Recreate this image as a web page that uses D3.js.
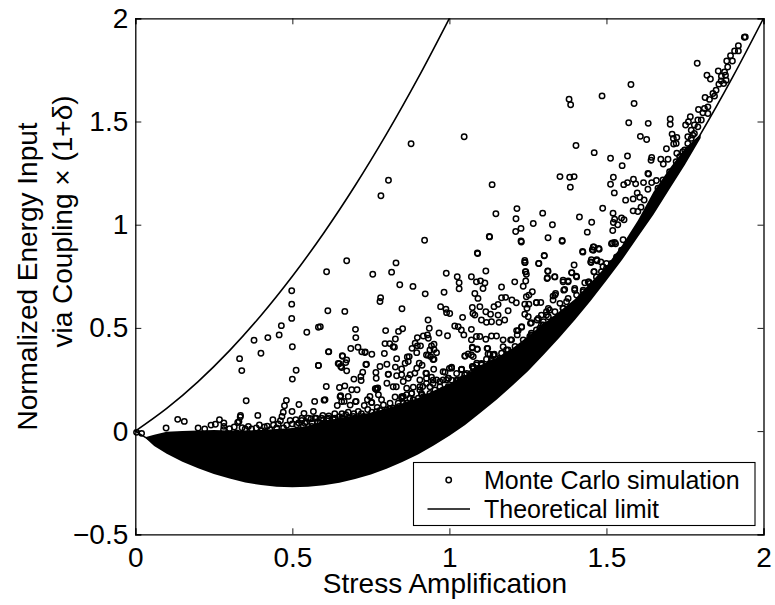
<!DOCTYPE html>
<html><head><meta charset="utf-8">
<script src="https://cdn.jsdelivr.net/npm/d3@7/dist/d3.min.js"></script>
<style>html,body{margin:0;padding:0;background:#fff}svg{display:block}text{font-family:"Liberation Sans",Arial,sans-serif;fill:#000}</style>
</head><body><div id="chart"></div>
<script>
const xTicks=[0,0.5,1,1.5,2];
const yTicks=[-0.5,0,0.5,1,1.5,2];
const xLabel="Stress Amplification";
const yLabelLines=["Normalized Energy Input","via Coupling × (1+δ)"];
const legendLabels=["Monte Carlo simulation","Theoretical limit"];
const upperLimitX=[0,.1,.2,.3,.4,.5,.6,.7,.8,.9,1];
const upperLimitY=[0,.11,.24,.39,.56,.75,.96,1.19,1.44,1.71,2];
const lowerLimitX=[0,.1,.2,.3,.4,.5,.6,.7,.8,.9,1,1.1,1.2,1.3,1.4,1.5,1.6,1.7,1.8,1.9,2];
const lowerLimitY=[0,-.09,-.16,-.21,-.24,-.25,-.24,-.21,-.16,-.09,0,.11,.24,.39,.56,.75,.96,1.19,1.44,1.71,2];
// Solid mass where the simulated points overlap completely
const denseX=[.034,.06,.1,.15,.2,.25,.3,.35,.4,.45,.5,.55,.6,.65,.7,.75,.8,.85,.9,.95,1,1.05,1.1,1.15,1.2,1.25,1.3,1.35,1.4,1.45,1.5,1.55,1.6,1.65,1.7,1.75,1.8];
const denseLow=[-.036,-.072,-.11,-.148,-.18,-.208,-.23,-.249,-.261,-.27,-.272,-.27,-.262,-.25,-.232,-.21,-.182,-.15,-.113,-.07,-.022,.03,.09,.152,.22,.29,.37,.452,.54,.632,.73,.83,.94,1.05,1.17,1.29,1.42];
const denseHigh=[-.028,-.018,-.003,0,.003,.005,.003,.003,.005,.01,.015,.025,.05,.062,.075,.09,.11,.135,.16,.195,.23,.27,.32,.355,.4,.46,.52,.58,.64,.72,.8,.9,1.02,1.16,1.27,1.37,1.44];
const simulationPoints=[
[.878,1.392],[.806,1.215],[.782,1.14],[.921,.925],[.673,.825],[.83,.815],
[1.047,1.426],[1.381,1.608],[1.386,1.581],[1.486,1.624],[1.578,1.679],[1.588,1.587],[1.789,1.782],[1.82,1.724],[1.831,1.706],[1.856,1.745],[1.939,1.908],[1.942,1.91],[1.92,1.867],[1.92,1.842],[1.908,1.842],[1.895,1.819],[1.883,1.793],[1.901,1.793],[1.886,1.764],[1.876,1.74],[1.866,1.719],[1.879,1.724],[1.865,1.697],[1.881,1.7],[1.858,1.681],[1.873,1.684],[1.849,1.652],[1.839,1.636],[1.814,1.616],[1.828,1.607],[1.844,1.623],[1.823,1.571],[1.812,1.563],[1.793,1.558],[1.807,1.542],[1.823,1.539],[1.767,1.523],[1.761,1.499],[1.752,1.483],[1.703,1.512],[1.703,1.487],[1.633,1.491],[1.571,1.494],[1.791,1.507],[1.78,1.483],[1.802,1.507],[1.791,1.474],[1.77,1.458],[1.78,1.442],[1.709,1.439],[1.724,1.423],[1.713,1.418],[1.722,1.394],[1.714,1.391],[1.608,1.428],[1.628,1.413],[1.403,1.384],[1.691,1.368],[1.461,1.349],[1.513,1.322],[1.567,1.333],[1.55,1.286],[1.644,1.326],[1.642,1.312],[1.673,1.317],[1.696,1.317],[1.681,1.294],[1.724,1.346],[1.759,1.426],[1.77,1.418],[1.749,1.362],[1.733,1.33],[1.632,1.248],[1.634,1.246],[1.352,1.233],[1.383,1.23],[1.397,1.233],[1.385,1.182],[1.522,1.23],[1.513,1.196],[1.555,1.194],[1.567,1.204],[1.586,1.22],[1.593,1.198],[1.618,1.204],[1.644,1.204],[1.659,1.214],[1.525,1.154],[1.136,1.194],[1.632,1.172],[1.598,1.154],[1.585,1.125],[1.561,1.119],[1.606,1.133],[1.62,1.12],[1.61,1.085],[1.585,1.067],[1.6,1.064],[1.488,1.08],[1.215,1.078],[1.148,1.053],[1.297,1.056],[1.212,1.029],[1.414,1.037],[1.521,1.056],[1.526,1.027],[1.548,1.033],[1.556,1.024],[1.522,1.011],[1.536,1],[1.453,1.012],[1.267,1.006],[1.328,1],[1.228,.982],[1.211,.967],[1.439,.964],[1.52,.972],[1.127,.943],[1.128,.941],[1.314,.937],[1.359,.924],[1.228,.921],[1.519,.911],[1.526,.914],[1.553,.927],[1.46,.892],[1.475,.885],[1.455,.879],[1.424,.871],[1.089,.863],[1.302,.851],[1.452,.83],[1.469,.83],[1.24,.827],
[.609,.772],[.756,.76],[.816,.77],[.99,.765],[.842,.709],[.884,.701],[.923,.665],[.983,.673],[.498,.68],[.498,.615],[.498,.546],[.781,.646],[.779,.628],[.849,.593],[.613,.583],[.667,.58],[.972,.603],[.989,.59],[.991,.574],[.932,.538],[.465,.511],[.583,.503],[.589,.506],[.546,.479],[.701,.493],[.797,.487],[.838,.483],[.851,.496],[.936,.498],[.967,.475],[.994,.462],[.458,.466],[.422,.453],[.378,.44],[.702,.453],[.898,.453],[.917,.461],[.93,.466],[.933,.45],[.828,.446],[.795,.424],[.81,.424],[.821,.409],[.825,.406],[.891,.426],[.898,.413],[.908,.413],[.951,.421],[.943,.413],[.686,.4],[.709,.406],[.721,.384],[.732,.384],[.753,.372],[.5,.409],[.616,.385],[.4,.377],[.332,.351],[.881,.401],[.872,.361],[.866,.359],[.896,.38],[.927,.369],[.94,.361],[.951,.348],[.959,.38],[.938,.393],[.793,.376],[.832,.351],[.66,.363],[.673,.345],[.67,.332],[.649,.326],[.654,.313],[.673,.292],[.736,.324],[.779,.313],[.801,.324],[.828,.31],[.848,.301],[.859,.329],[.869,.337],[.904,.329],[.913,.319],[.896,.305],[.89,.281],[.95,.3],[.583,.318],[.339,.293],[.512,.295],[.5,.252],[.724,.285],[.718,.264],[.696,.252],[.719,.245],[.766,.284],[.767,.256],[.806,.276],[.832,.268],[.848,.273],[.875,.273],[.869,.256],[.925,.281],[.986,.285],[.906,.248],[.927,.256],[.943,.261],[.959,.248],[.98,.248],[.996,.256],[.853,.24],[.801,.232],[.608,.216],[.65,.211],[.667,.219],[.689,.2],[.706,.2],[.821,.215],[.831,.215],[.768,.207],[.764,.205],[.772,.209],[.768,.2],[.864,.208],[.885,.213],[.915,.216],[.774,.176],[.784,.152],[.654,.171],[.678,.168],[.665,.144],[.703,.144],[.747,.168],[.739,.152],[.753,.139],[.729,.124],[.827,.165],[.853,.168],[.864,.176],[.885,.152],[.912,.176],[.927,.165],[.604,.152],[.601,.15],[.571,.144],[.481,.149],[.353,.147],[.475,.123],[.521,.129],[.643,.124],[.684,.126],[.567,.095],[.537,.086],[.499,.095],[.471,.091],[.335,.076],[.39,.076],[.334,.068],[.326,.042],[.33,.046],[.467,.071],[.438,.055],[.268,.055],[.135,.057],[.156,.047],[.098,.015],[.2,.015],[.221,.01],[.241,.029],[.255,.033],[.282,.039],[.282,.023],[.281,.007],[.35,.01],[.37,.01],[.411,.02],[.45,.015],[.493,.052],[.511,.055],[.53,.052],[.563,.039],[.576,.063],[.597,.076],[.616,.074],[.635,.084],[.658,.084],[.678,.091],[.696,.084],[.72,.084],[.753,.091],[.779,.1],[.8,.103],[.821,.112],[.864,.12],[.896,.136],[.938,.152],[.97,.16],[.482,.028],[.514,.031],[.535,.023],[.562,.023],[.599,.055],[.631,.055],[.662,.063],[.694,.071],[.726,.071],[.763,.079],[.795,.087],[.832,.095],[.429,.007],[.403,.002],[.323,-.009],[.472,.015],[.004,-.006],[.02,-.011],
[1.241,.817],[1.284,.812],[1.397,.805],[1.451,.817],[1.116,.776],[1.243,.772],[1.245,.76],[1.314,.775],[1.311,.739],[1.335,.748],[1.025,.748],[1.031,.719],[1.031,.69],[1.07,.748],[1.086,.723],[1.099,.728],[1.113,.718],[1.107,.691],[1.166,.698],[1.208,.723],[1.243,.727],[1.235,.702],[1.39,.767],[1.404,.751],[1.362,.723],[1.378,.728],[1.367,.686],[1.399,.691],[1.431,.719],[1.444,.723],[1.46,.772],[1.081,.667],[1.091,.643],[1.264,.675],[1.253,.659],[1.245,.651],[1.338,.667],[1.33,.654],[1.166,.646],[1.179,.648],[1.199,.635],[1.213,.622],[1.155,.614],[1.142,.603],[1.277,.622],[1.291,.623],[1.24,.615],[1.253,.615],[1.247,.595],[1.097,.603],[1.073,.599],[1.075,.57],[1.081,.562],[1.116,.578],[1.131,.566],[1.155,.562],[1.187,.583],[1.24,.566],[1.362,.595],[1.102,.538],[1.118,.527],[1.134,.53],[1.158,.527],[1.176,.538],[1.042,.551],[1.001,.57],[1.279,.538],[1.261,.525],[1.293,.562],[1.309,.578],[1.319,.586],[1.293,.514],[1.017,.509],[1.028,.506],[1.038,.49],[1.046,.466],[1.07,.493],[1.07,.442],[1.086,.458],[1.097,.458],[1.116,.445],[1.134,.461],[1.15,.461],[1.171,.442],[1.195,.442],[1.219,.487],[1.23,.506],[1.261,.474],[1.288,.498],[1.256,.458],[1.073,.406],[1.088,.398],[1.049,.364],[1.06,.374],[1.07,.369],[1.12,.401],[1.123,.374],[1.142,.369],[1.134,.345],[1.171,.409],[1.182,.393],[1.007,.31],[1.038,.297],[1.073,.313],[1.086,.321],[1.049,.273],[1.028,.248],
[1.362,.731],[1.378,.723],[1.405,.747],[1.389,.768],[1.461,.772],[1.45,.82],[1.47,.825],[1.482,.82],[1.313,.776],[1.312,.743],[1.336,.747],[1.364,.683],[1.399,.683],[1.336,.659],[1.33,.635],[1.315,.594],[1.277,.623],[1.362,.594],[1.309,.562],[1.283,.546],[1.33,.538],[1.299,.514],[1.251,.554],[1.258,.522],[1.23,.503],[1.214,.487],[1.216,.466],[1.198,.442],[1.14,.369],[1.166,.377],[1.187,.393],[1.224,.401],[1.256,.442],[1.283,.474],[1.315,.498],[1.341,.514],[1.373,.627],[1.426,.675],[1.442,.723],[1.489,.796],[1.5,.812],[1.458,.876],[1.477,.881],[1.458,.892],[1.516,.908],[1.529,.908],[1.425,.867],[1.302,.849],[1.229,.916],[1.359,.92],[1.09,.86],[1.285,.812],[1.24,.817],[1.242,.772],[1.007,.305],[1.039,.3],[.997,.256],[1.034,.248],[1.05,.273],[1.087,.329],[1.102,.321],[1.118,.348],[1.134,.337],[1.073,.403],[1.089,.396],[1.05,.364],[1.076,.361],[1.122,.401],[1.129,.372],[1.143,.372],
[.615,.384],[.583,.318],[.731,.381],[.659,.365],[.646,.328],[.657,.308],[.734,.323],[.933,.368],[.948,.347],[.951,.395],[.805,.275],[.954,.199],[1,.304],[1.039,.299],[.927,.279],[.98,.288],[1.007,.247],[1.044,.255],[1.07,.279],[1.076,.312],[1.102,.325],[1.139,.328],[.97,.239],[.652,.167],[.657,.143],[.701,.143],[.752,.138],[.848,.167],[.88,.183],[.906,.199],[.927,.231],[.948,.231],[.98,.199],[1.012,.215],[1.044,.239],[.917,.167],[.948,.175],[.79,.127],[.853,.135],[.885,.151],
[.53,.062],[.551,.062],[.572,.062],[.593,.062],[.615,.062],[.636,.062],[.657,.062],[.678,.062],[.699,.062],[.721,.062],[.742,.062],[.763,.062],[.54,.038],[.588,.038],[.641,.038],[.689,.038],[.736,.038],[.779,.038],[.768,.094],[.795,.094],[.816,.094],[.837,.094],[.811,.135],[.837,.135],[.864,.135],[.848,.159],[.874,.159],[.901,.159],[.88,.183],[.911,.183],[.938,.183],[.964,.183],[.906,.215],[.938,.215],[.97,.215],[.996,.215],[1.023,.215],[.948,.247],[.991,.247],[1.023,.247],[1.055,.247],[1.076,.247],[1.023,.279],[1.055,.279],[1.086,.279],[1.118,.279],[1.076,.304],[1.108,.304],[1.134,.304],[1.16,.304],[1.102,.328],[1.129,.328],[1.155,.328],
[1.097,.305],[1.113,.289],[1.145,.321],[1.161,.353],[1.182,.369],[1.209,.41],[1.235,.442],[1.261,.466],[1.277,.49],[1.299,.53],[1.315,.554],[1.336,.578],[1.325,.522],[1.352,.619],[1.378,.643],[1.405,.659],[1.426,.683],[1.447,.715],[1.468,.747],[1.484,.772],[1.5,.788],[1.516,.812],[1.532,.844],[1.548,.876],[1.564,.9],[1.664,1.177],[1.68,1.217],[1.701,1.257],[1.722,1.305],[1.743,1.354],[1.759,1.394],[1.775,1.434],
[.3,.012],[.315,.02],[.34,.016],[.36,.022],[.385,.015],[.395,.03],[.42,.024],[.44,.03],[.455,.035],[.462,.05],[.5,.035],[.52,.04],[.545,.045],[.56,.06],[.58,.045],[.61,.06],[.65,.07],[.67,.08],[.71,.095],[.74,.105],[.77,.115],[.81,.11],[.84,.12]
];
const W=775,H=605;
const x=d3.scaleLinear().domain([0,2]).range([135.3,763.5]);
const y=d3.scaleLinear().domain([-0.5,2]).range([534.3,18.3]);
const svg=d3.select("#chart").append("svg").attr("width",W).attr("height",H);
const axisFont=28,legendFont=25;
const plot=svg.append("g");
plot.append("path").datum(denseX.map((d,i)=>[d,denseLow[i],denseHigh[i]]))
 .attr("fill","#000").attr("d",d3.area().x(d=>x(d[0])).y0(d=>y(d[1])).y1(d=>y(d[2])).curve(d3.curveLinear));
plot.append("g").selectAll("circle").data(simulationPoints).join("circle")
 .attr("cx",d=>x(d[0])).attr("cy",d=>y(d[1])).attr("r",2.7).attr("fill","none").attr("stroke","#000").attr("stroke-width",1.5);
const limitLine=d3.line().x(d=>x(d[0])).y(d=>y(d[1])).curve(d3.curveCatmullRom);
[[upperLimitX,upperLimitY],[lowerLimitX,lowerLimitY]].forEach(([a,b])=>{
 plot.append("path").datum(a.map((d,i)=>[d,b[i]])).attr("fill","none").attr("stroke","#000").attr("stroke-width",1.6).attr("d",limitLine);
});
function fmt(v){return v<0?"\u2212"+Math.abs(v):String(v);}
const axB=svg.append("g").attr("transform",`translate(0,${y(-0.5)})`).call(d3.axisBottom(x).tickValues(xTicks).tickSize(-6).tickPadding(12.5).tickFormat(fmt));
const axL=svg.append("g").attr("transform",`translate(${x(0)},0)`).call(d3.axisLeft(y).tickValues(yTicks).tickSize(-6).tickPadding(7).tickFormat(fmt));
const axT=svg.append("g").attr("transform",`translate(0,${y(2)})`).call(d3.axisTop(x).tickValues(xTicks).tickSize(-6).tickFormat(""));
const axR=svg.append("g").attr("transform",`translate(${x(2)},0)`).call(d3.axisRight(y).tickValues(yTicks).tickSize(-6).tickFormat(""));
[axB,axL,axT,axR].forEach(g=>{g.select(".domain").attr("stroke","#000").attr("stroke-width",1.3);g.selectAll(".tick line").attr("stroke","#000").attr("stroke-width",.9);g.selectAll("text").attr("font-size",axisFont).attr("font-family","Liberation Sans");});
svg.append("text").attr("x",445).attr("y",593).attr("text-anchor","middle").attr("font-size",axisFont).text(xLabel);
svg.append("text").attr("transform","translate(36.5,276.5) rotate(-90)").attr("text-anchor","middle").attr("font-size",axisFont).text(yLabelLines[0]);
svg.append("text").attr("transform","translate(72,221.5) rotate(-90)").attr("text-anchor","middle").attr("font-size",axisFont).text(yLabelLines[1]);
const lg=svg.append("g");
lg.append("rect").attr("x",413.5).attr("y",462.5).attr("width",341.5).attr("height",63).attr("fill","#fff").attr("stroke","#000").attr("stroke-width",1.1);
lg.append("circle").attr("cx",448.7).attr("cy",480).attr("r",2.7).attr("fill","none").attr("stroke","#000").attr("stroke-width",1.5);
lg.append("line").attr("x1",427.5).attr("x2",470).attr("y1",509).attr("y2",509).attr("stroke","#000").attr("stroke-width",1.6);
lg.append("text").attr("x",484).attr("y",488.5).attr("font-size",legendFont).text(legendLabels[0]);
lg.append("text").attr("x",484).attr("y",517.5).attr("font-size",legendFont).text(legendLabels[1]);
</script></body></html>
